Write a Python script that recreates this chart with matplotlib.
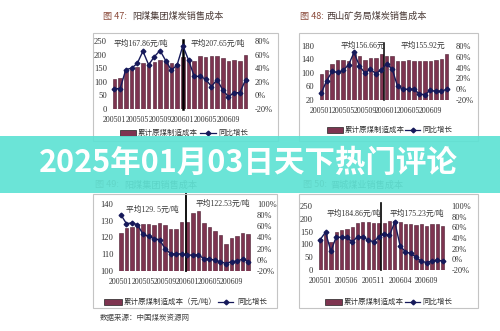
import matplotlib
matplotlib.use("Agg")
import matplotlib.pyplot as plt
from matplotlib.patches import Rectangle
from matplotlib.lines import Line2D
import numpy as np

W, H = 500, 331
FAM = ['Liberation Serif', 'Noto Sans CJK SC']
CJK = ['Noto Sans CJK SC', 'DejaVu Sans']

# ---------------- data ----------------
ticks_a = ['200501', '200505', '200509', '200601', '200605', '200609']
ticks_b = ['200501', '200506', '200511', '200604', '200609']

titles = ['图 47:', '图 48:', '图 49:', '图 50:']
title_names = ['阳煤集团煤炭销售成本', '西山矿务局煤炭销售成本', '阳煤集团销售成本', '晋城煤业销售成本']

cost47 = [110, 115, 143, 152, 153, 170, 165, 171, 181, 177, 170, 165,
          190, 183, 176, 195, 192, 195, 195, 187, 178, 181, 178, 200]
yoy47 = [10, 10, 38, 40, 47, 65, 45, 57, 66, 51, 37, 45,
         73, 52, 28, 28, 24, 13, 23, 8, -2, 4, 4, 23]
avg47 = ['平均167.86元/吨', '平均207.65元/吨']

cost48 = [97, 108, 128, 138, 139, 135, 156, 150, 138, 145, 145, 157,
          149, 149, 136, 137, 138, 136, 135, 135, 136, 138, 140, 155]
yoy48 = [-7, 16, 33, 31, 35, 45, 68, 43, 30, 37, 29, 36,
         47, 37, 5, 0, 0, 0, -9, -10, -2, -4, -4, 0]
avg48 = ['平均156.66元', '平均155.92元']

cost49 = [122.9, 125.7, 126.5, 127.9, 127.9, 128.1, 127.7, 128.7, 127.7, 125.1, 125.1, 129.1,
          129.1, 134.4, 136.0, 128.5, 126.5, 124.1, 121.5, 116.1, 119.9, 121.1, 122.5, 122.1]
yoy49 = [81, 65, 66, 63, 46, 42, 38, 36, 20, 11, 10, 11,
         8, 9, 9, 2, 2, -1, -3, -7, -3, -2, 1, -3]
avg49 = ['平均129. 5元/吨', '平均122.53元/吨']

cost50 = [121, 140, 110, 150, 158, 160, 167, 184, 187, 186, 184, 183,
          183, 191, 191, 187, 180, 180, 176, 178, 172, 178, 180, 172]
yoy50 = [37, 51, 15, 42, 41, 41, 33, 42, 42, 36, 33, 42,
         48, 45, 70, 25, 14, 11, 4, -4, -6, -3, -2, -3]
avg50 = ['平均184.86元/吨', '平均175.23元/吨']

legend_bar = ['累计原煤制造成本', '累计原煤制造成本', '累计原煤制造成本（元/吨）', '累计原煤制造成本']
legend_line = '同比增长'
source = '数据来源：中国煤炭资源网'
banner = '2025年01月03日天下热门评论'

# ---------------- drawing ----------------
BAR = '#7e3450'
BAREDGE = '#4a1c30'
LINE = '#16195a'
TXT = '#333333'

fig = plt.figure(figsize=(W / 100, H / 100), dpi=100)
fig.patch.set_facecolor('white')


def rect(l, t, r, b):
    return [l / W, 1 - b / H, (r - l) / W, (b - t) / H]


def ftext(x, y, s, **kw):
    kw.setdefault('color', TXT)
    kw.setdefault('family', FAM)
    fig.text(x / W, 1 - y / H, s, **kw)


def frame(l, t, r, b):
    fig.patches.append(Rectangle((l / W, 1 - b / H), (r - l) / W, (b - t) / H,
                                 transform=fig.transFigure, fill=False,
                                 edgecolor='#c4c4c4', lw=0.8, zorder=0))


def chart(box, cost, yoy, ylim, yticks, rlim, rticks, tick_idx, tick_lab,
          divider, div_top=1.0, div_lw=1.2):
    ax = fig.add_axes(rect(*box))
    x = np.arange(len(cost))
    ax.bar(x, cost, width=0.62, color=BAR, edgecolor=BAREDGE, lw=0.4, zorder=2)
    ax.set_xlim(-0.6, len(cost) - 0.4)
    ax.set_ylim(*ylim)
    ax.set_yticks(yticks)
    ax.set_yticklabels([str(v) for v in yticks], family=FAM, fontsize=6.2, color=TXT)
    ax.set_xticks(tick_idx)
    ax.set_xticklabels(tick_lab, family=FAM, fontsize=5.7, color=TXT)
    ax.tick_params(length=0, pad=3)
    ax.tick_params(axis='x', pad=5)
    for s in ax.spines.values():
        s.set_visible(False)
    ax.patch.set_alpha(0)
    ax.axvline(divider, ymin=0, ymax=div_top, color='black', lw=div_lw, zorder=4, clip_on=False)
    ax2 = ax.twinx()
    ax2.plot(x, yoy, color=LINE, lw=1.0, marker='D', ms=2.4, zorder=5)
    ax2.set_ylim(*rlim)
    ax2.set_yticks(rticks)
    ax2.set_yticklabels([f'{v}%' for v in rticks], family=FAM, fontsize=6.0, color=TXT)
    ax2.tick_params(length=0, pad=4)
    for s in ax2.spines.values():
        s.set_visible(False)
    return ax


def legend(xs, y, label):
    sx0, sx1, tx, lx0, lx1, tx2 = xs
    fig.patches.append(Rectangle((sx0 / W, 1 - (y + 3) / H), (sx1 - sx0) / W, 6 / H,
                                 transform=fig.transFigure, facecolor=BAR,
                                 edgecolor='#222222', lw=0.5))
    ftext(tx, y, label, fontsize=5.4, va='center', family=CJK)
    fig.lines.append(Line2D([lx0 / W, lx1 / W], [1 - y / H, 1 - y / H],
                            transform=fig.transFigure, color=LINE, lw=0.9))
    fig.lines.append(Line2D([(lx0 + lx1) / 2 / W], [1 - y / H], transform=fig.transFigure,
                            color=LINE, marker='D', ms=2.4, lw=0))
    ftext(tx2, y, legend_line, fontsize=5.4, va='center', family=CJK)


# frames
frame(93, 33, 278, 141)
frame(299, 33, 478, 141)
frame(93, 194, 277, 308)
frame(299, 194, 478, 308)

# chart 47
chart((111, 41, 249, 109), cost47, yoy47, (0, 250), [0, 50, 100, 150, 200, 250],
      (-20, 80), [-20, 0, 20, 40, 60, 80], [0, 4, 8, 12, 16, 20], ticks_a, 12, 1.02, 1.8)
ftext(114, 44, avg47[0], fontsize=5.6, va='center')
ftext(191, 44, avg47[1], fontsize=5.6, va='center')
legend((120, 136, 138, 200, 216, 218), 133, legend_bar[0])

# chart 48
chart((318, 46, 450, 100), cost48, yoy48, (20, 180), [20, 60, 100, 140, 180],
      (-20, 80), [-20, 0, 20, 40, 60, 80], [0, 4, 8, 12, 16, 20], ticks_a, 11.5, 1.05, 1.1)
ftext(341, 46, avg48[0], fontsize=5.6, va='center')
ftext(401, 46, avg48[1], fontsize=5.6, va='center')
legend((327, 343, 345, 405, 420, 422), 130, legend_bar[1])

# chart 49
chart((117.5, 204, 251.5, 271), cost49, yoy49, (100, 140), [100, 110, 120, 130, 140],
      (-20, 100), [-20, 0, 20, 40, 60, 80, 100], [0, 4, 8, 12, 16, 20], ticks_a, 11.7, 1.15, 1.3)
ftext(126, 210, avg49[0], fontsize=5.6, va='center')
ftext(196, 204, avg49[1], fontsize=5.6, va='center')
legend((104, 122, 124, 218, 233, 237), 302, legend_bar[2])

# chart 50
chart((317, 206, 446, 270), cost50, yoy50, (0, 250), [0, 50, 100, 150, 200, 250],
      (-20, 100), [-20, 0, 20, 40, 60, 80, 100], [0, 5, 10, 15, 20], ticks_b, 11.5, 1.04, 1.2)
ftext(327, 214, avg50[0], fontsize=5.6, va='center')
ftext(390, 214, avg50[1], fontsize=5.6, va='center')
legend((325, 342, 344, 405, 420, 422), 302, legend_bar[3])

# titles
ftext(103, 16, titles[0], fontsize=6.6, va='center', color='#8a4a3a', family=CJK)
ftext(132, 16, title_names[0], fontsize=6.6, va='center', color='#4a3a36', family=CJK)
ftext(300, 16, titles[1], fontsize=6.6, va='center', color='#8a4a3a', family=CJK)
ftext(326, 16, title_names[1], fontsize=6.6, va='center', color='#4a3a36', family=CJK)
ftext(95, 185, titles[2], fontsize=6.6, va='center', color='#8a4a3a', family=CJK)
ftext(124, 185, title_names[2], fontsize=6.6, va='center', color='#4a3a36', family=CJK)
ftext(303, 185, titles[3], fontsize=6.6, va='center', color='#8a4a3a', family=CJK)
ftext(330, 185, title_names[3], fontsize=6.6, va='center', color='#4a3a36', family=CJK)

# source
ftext(100, 318, source, fontsize=5.4, va='center', family=CJK, color='#444444')

# banner
fig.patches.append(Rectangle((0, 1 - 193 / H), 1, 57 / H, transform=fig.transFigure,
                             facecolor='#5ee2d4', edgecolor='none', alpha=0.92, zorder=10))
fig.text(248 / W, 1 - 163 / H, banner, fontsize=22, fontweight='bold', color='white',
         family=CJK, ha='center', va='center', zorder=11)

fig.savefig('out.png', dpi=100)
